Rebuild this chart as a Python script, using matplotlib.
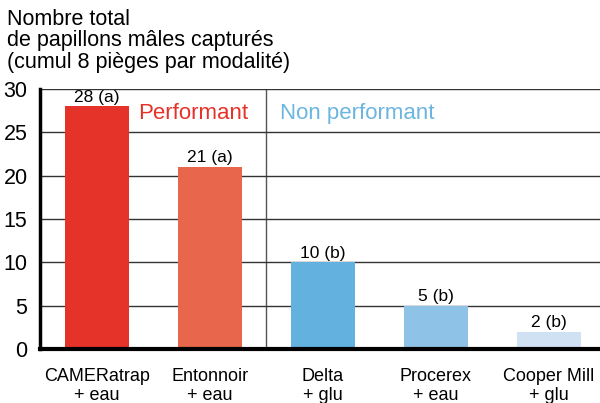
import matplotlib.pyplot as plt

plt.rcParams['font.family'] = ['Liberation Sans', 'DejaVu Sans']

pieges = ['CAMERatrap\n+ eau', 'Entonnoir\n+ eau', 'Delta\n+ glu', 'Procerex\n+ eau', 'Cooper Mill\n+ glu']
captures = [28, 21, 10, 5, 2]
lettres = ['a', 'a', 'b', 'b', 'b']
couleurs = ['#E5332A', '#E8664B', '#63B1DE', '#8FC2E7', '#CFE1F2']

fig = plt.figure(figsize=(6, 4.03), dpi=100)
ax = fig.add_axes([0.0667, 0.134, 0.9333, 0.645])

x = range(len(pieges))
ax.bar(x, captures, width=0.566, color=couleurs, zorder=3)
for i, v in enumerate(captures):
    ax.text(i, v + 0.2, f'{v} ({lettres[i]})', ha='center', va='bottom', fontsize=12.5)

ax.set_xlim(-0.5, 4.45)
ax.set_ylim(0, 30)
ax.set_yticks(range(0, 31, 5))
ax.set_xticks(list(x))
ax.set_xticklabels(pieges, fontsize=13, linespacing=1.1)
ax.tick_params(axis='y', labelsize=15.5, length=0, pad=9)
ax.tick_params(axis='x', length=0, pad=14)
ax.grid(axis='y', color='#333333', linewidth=1, zorder=0)
ax.axvline(1.5, color='#555555', linewidth=1, zorder=1)

for s in ['top', 'right']:
    ax.spines[s].set_visible(False)
ax.spines['left'].set_linewidth(2.5)
ax.spines['bottom'].set_linewidth(3)
ax.spines['left'].set_zorder(4)
ax.spines['bottom'].set_zorder(4)

ax.text(0.366, 27.2, 'Performant', color='#E5332A', fontsize=16, va='center')
ax.text(1.62, 27.2, 'Non performant', color='#6BB5E0', fontsize=16, va='center')

fig.text(0.012, 0.978, 'Nombre total\nde papillons mâles capturés\n(cumul 8 pièges par modalité)',
         ha='left', va='top', fontsize=15.5, linespacing=1.02)

fig.savefig('out.png', dpi=100)
